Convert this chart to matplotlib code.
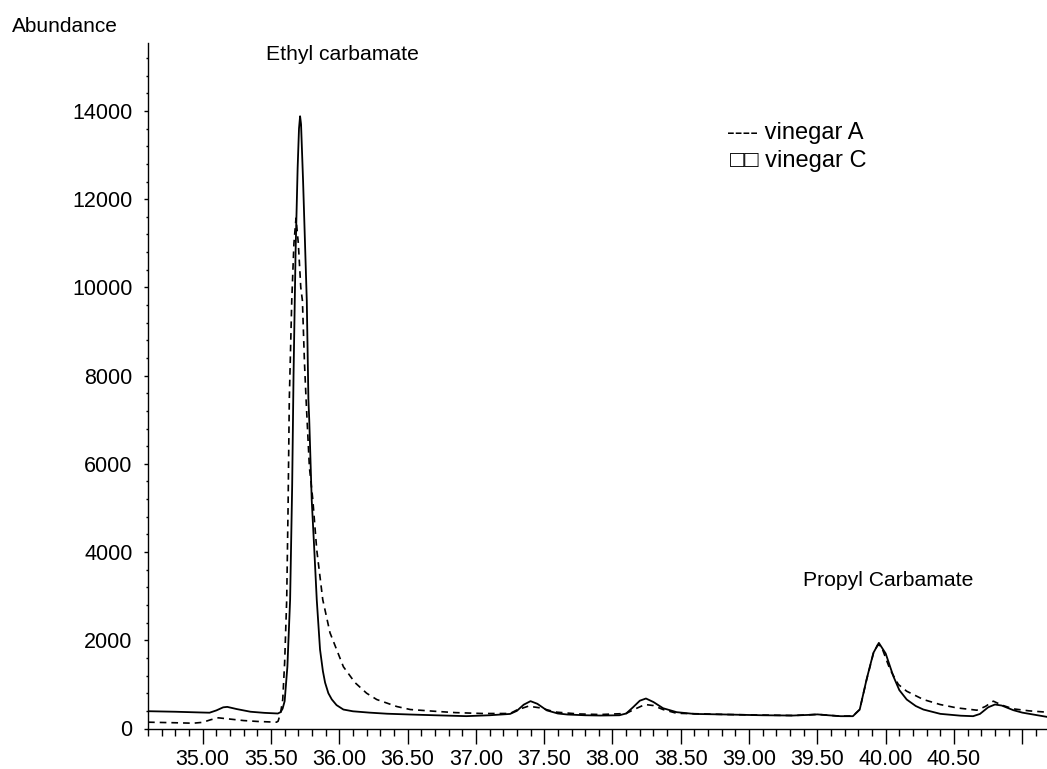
import matplotlib
matplotlib.use("Agg")
import matplotlib.pyplot as plt
from matplotlib.ticker import MultipleLocator, FuncFormatter

plt.rcParams['font.family'] = ['Liberation Sans', 'DejaVu Sans']

# vinegar C (solid line): retention time (min), abundance
time_c = [34.60, 34.80, 35.00, 35.05, 35.10, 35.15, 35.18, 35.25, 35.35, 35.45,
          35.55, 35.57, 35.585, 35.60, 35.62, 35.64, 35.655, 35.665, 35.68, 35.695,
          35.705, 35.713, 35.72, 35.735, 35.75, 35.762, 35.774, 35.78, 35.798, 35.817,
          35.835, 35.859, 35.88, 35.896, 35.92, 35.945, 35.98, 36.03, 36.10, 36.22,
          36.35, 36.52, 36.70, 36.93, 37.10, 37.25, 37.30, 37.35, 37.40, 37.45,
          37.52, 37.60, 37.67, 37.80, 37.91, 38.05, 38.10, 38.15, 38.20, 38.245,
          38.30, 38.37, 38.47, 38.60, 38.84, 39.10, 39.32, 39.45, 39.50, 39.58,
          39.67, 39.76, 39.81, 39.86, 39.91, 39.95, 40.00, 40.056, 40.10, 40.154,
          40.22, 40.276, 40.40, 40.55, 40.64, 40.69, 40.75, 40.80, 40.85, 40.935,
          41.00, 41.08, 41.18]
abund_c = [392, 380, 362, 358, 410, 480, 490, 440, 380, 355,
           340, 370, 450, 620, 1400, 2920, 5500, 8000, 10800, 12700,
           13600, 13880, 13700, 12400, 10900, 9700, 7450, 7000, 5190, 4050,
           2920, 1790, 1300, 1040, 800, 660, 530, 430, 390, 360,
           335, 317, 300, 280, 300, 330, 400, 540, 620, 560,
           410, 340, 317, 300, 294, 300, 340, 480, 630, 680,
           600, 460, 370, 330, 317, 300, 294, 310, 320, 300,
           279, 279, 430, 1110, 1714, 1941, 1700, 1185, 870, 657,
           510, 430, 332, 290, 279, 330, 480, 544, 520, 415,
           360, 317, 264]

# vinegar A (dashed line)
time_a = [34.60, 34.80, 34.93, 35.00, 35.06, 35.115, 35.18, 35.30, 35.40, 35.54,
          35.552, 35.57, 35.586, 35.60, 35.615, 35.625, 35.634, 35.652, 35.668, 35.683,
          35.70, 35.718, 35.730, 35.745, 35.757, 35.781, 35.806, 35.835, 35.879, 35.932,
          36.03, 36.115, 36.20, 36.274, 36.421, 36.52, 36.686, 36.85, 37.052, 37.25,
          37.30, 37.384, 37.47, 37.55, 37.592, 37.75, 37.91, 38.10, 38.15, 38.238,
          38.30, 38.37, 38.47, 38.84, 39.32, 39.50, 39.67, 39.76, 39.81, 39.86,
          39.91, 39.942, 39.97, 40.00, 40.032, 40.093, 40.154, 40.276, 40.398, 40.52,
          40.667, 40.73, 40.788, 40.85, 40.935, 41.05, 41.18]
abund_a = [143, 130, 120, 140, 200, 242, 220, 180, 160, 143,
           165, 350, 657, 1500, 2920, 5000, 7450, 9700, 11000, 11570,
           11000, 10000, 9700, 8300, 7450, 5930, 5190, 4050, 2920, 2170,
           1400, 1040, 800, 657, 498, 430, 393, 360, 340, 340,
           420, 506, 468, 400, 370, 330, 317, 340, 420, 544,
           520, 430, 345, 317, 294, 320, 279, 285, 430, 1100,
           1700, 1900, 1850, 1600, 1336, 997, 845, 657, 544, 468,
           415, 500, 620, 530, 445, 400, 370]

W, H = 1047, 769
fig = plt.figure(figsize=(W / 100, H / 100), dpi=100)
left, right, top, bottom = 148, 1047, 43, 728.5
ax = fig.add_axes([left / W, 1 - bottom / H, (right - left) / W, (bottom - top) / H])

ax.plot(time_c, abund_c, color='black', lw=1.3, solid_joinstyle='round')
ax.plot(time_a, abund_a, color='black', lw=1.2, linestyle=(0, (4, 3)))

ax.set_xlim(34.5996, 41.181)
ax.set_ylim(0, 15540)

for s in ['top', 'right']:
    ax.spines[s].set_visible(False)
for s in ['left', 'bottom']:
    ax.spines[s].set_linewidth(1.0)

ax.xaxis.set_major_locator(MultipleLocator(0.5))
ax.xaxis.set_minor_locator(MultipleLocator(0.1))
ax.xaxis.set_major_formatter(FuncFormatter(lambda v, p: '' if v > 40.9 else f'{v:.2f}'))
ax.yaxis.set_major_locator(MultipleLocator(2000))
ax.yaxis.set_minor_locator(MultipleLocator(400))

ax.tick_params(axis='x', which='major', length=11, width=1, pad=3.5, labelsize=15.5)
ax.tick_params(axis='x', which='minor', length=5, width=1)
ax.tick_params(axis='y', which='major', length=3, width=1, pad=8, labelsize=15.5)
ax.tick_params(axis='y', which='minor', length=1.8, width=1)

def ftext(px, py, s, **kw):
    fig.text(px / W, 1 - py / H, s, **kw)

ftext(12, 32.5, 'Abundance', fontsize=15, va='baseline', ha='left')
ftext(266, 59.5, 'Ethyl carbamate', fontsize=15.2, va='baseline', ha='left')
ftext(803, 586, 'Propyl Carbamate', fontsize=15.2, va='baseline', ha='left')
ftext(727, 139.5, '---- vinegar A', fontsize=17, va='baseline', ha='left')
ftext(730, 166.5, '\u25a1\u25a1 vinegar C', fontsize=17, va='baseline', ha='left')

fig.savefig('out.png', dpi=100)
